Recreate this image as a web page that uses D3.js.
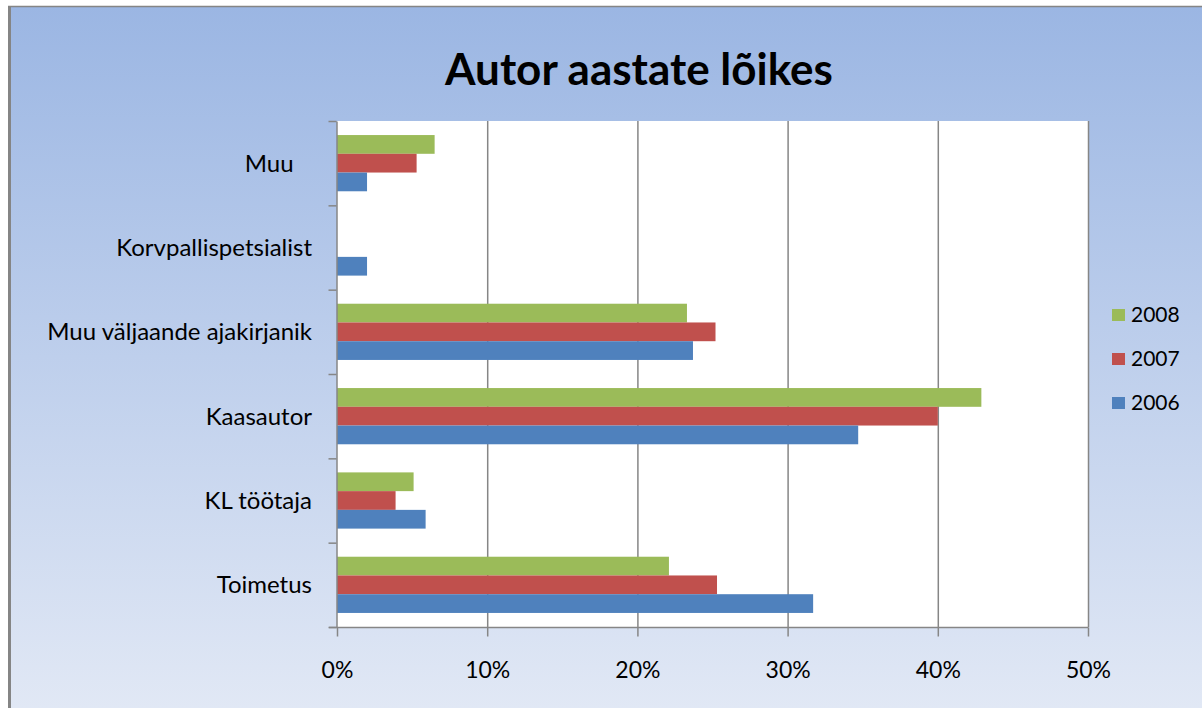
<!DOCTYPE html>
<html>
<head>
<meta charset="utf-8">
<script src="https://cdn.jsdelivr.net/npm/d3@7"></script>
<style>
  body { margin: 0; background: #ffffff; }
  text { font-family: Lato, "Open Sans", sans-serif; }
</style>
</head>
<body>
<div id="chart"></div>
<script>
// データ---------------------------------------------------------------------------------
const categories = ['Muu   ', 'Korvpallispetsialist', 'Muu väljaande ajakirjanik', 'Kaasautor', 'KL töötaja', 'Toimetus'];
const seriesNames = ['2008', '2007', '2006'];
const values2008 = [0.065, 0, 0.233, 0.429, 0.051, 0.221];
const values2007 = [0.053, 0, 0.252, 0.400, 0.039, 0.253];
const values2006 = [0.020, 0.020, 0.237, 0.347, 0.059, 0.317];
const xTicks = [0, 0.1, 0.2, 0.3, 0.4, 0.5];
const colors = ['#9bbb59', '#c0504d', '#4f81bd'];
const title = 'Autor aastate lõikes';

const dataset = categories.map((c, i) => ({
  cat: c,
  vals: [values2008[i], values2007[i], values2006[i]]
}));

// SVG領域---------------------------------------------------------------------------------
const width = 1202, height = 708;
const plot = { left: 337, right: 1088, top: 121, bottom: 627 };
const svg = d3.select('#chart').append('svg')
  .attr('width', width)
  .attr('height', height);

// 背景グラデーション---------------------------------------------------------------------
const grad = svg.append('defs').append('linearGradient')
  .attr('id', 'bg')
  .attr('x1', 0).attr('y1', 0).attr('x2', 0).attr('y2', 1);
grad.append('stop').attr('offset', '0%').attr('stop-color', '#9bb6e3');
grad.append('stop').attr('offset', '100%').attr('stop-color', '#e1e8f5');
svg.append('rect')
  .attr('x', 10).attr('y', 7)
  .attr('width', width - 10).attr('height', height - 7)
  .attr('fill', 'url(#bg)');
svg.append('line')
  .attr('x1', 9.5).attr('x2', 9.5).attr('y1', 6).attr('y2', height)
  .attr('stroke', '#858585').attr('stroke-width', 3);
svg.append('line')
  .attr('x1', 8).attr('x2', width).attr('y1', 6.5).attr('y2', 6.5)
  .attr('stroke', '#858585').attr('stroke-width', 1.5);

// 表名------------------------------------------------------------------------------------
svg.append('text')
  .attr('x', 639).attr('y', 85)
  .attr('text-anchor', 'middle')
  .attr('font-weight', 'bold')
  .attr('font-size', '44px')
  .attr('fill', '#000')
  .text(title);

// プロット領域----------------------------------------------------------------------------
svg.append('rect')
  .attr('x', plot.left).attr('y', plot.top)
  .attr('width', plot.right - plot.left).attr('height', plot.bottom - plot.top)
  .attr('fill', '#ffffff');

// スケール--------------------------------------------------------------------------------
const xScale = d3.scaleLinear().domain([0, 0.5]).range([plot.left, plot.right]);
const yScale = d3.scaleBand().domain(categories)
  .range([plot.top, plot.bottom])
  .paddingInner(1 / 3).paddingOuter(1 / 6);
const ySub = d3.scaleBand().domain(seriesNames).range([0, yScale.bandwidth()]);
const yEdge = d3.scaleLinear().domain([0, categories.length]).range([plot.top, plot.bottom]);

// グリッド線------------------------------------------------------------------------------
svg.append('g')
  .selectAll('line')
  .data(xTicks.slice(1))
  .enter()
  .append('line')
  .attr('x1', d => xScale(d) + 0.5).attr('x2', d => xScale(d) + 0.5)
  .attr('y1', plot.top).attr('y2', plot.bottom)
  .attr('stroke', '#868686')
  .attr('stroke-width', 1.5);

// 棒--------------------------------------------------------------------------------------
const groups = svg.append('g')
  .selectAll('g')
  .data(dataset)
  .enter()
  .append('g')
  .attr('transform', d => 'translate(0,' + yScale(d.cat) + ')');
groups.selectAll('rect')
  .data(d => d.vals.map((v, i) => ({ v: v, s: seriesNames[i], c: colors[i] })))
  .enter()
  .append('rect')
  .attr('x', xScale(0))
  .attr('y', d => ySub(d.s))
  .attr('width', d => xScale(d.v) - xScale(0))
  .attr('height', ySub.bandwidth())
  .attr('fill', d => d.c);

// 縦軸------------------------------------------------------------------------------------
const axisY = d3.axisLeft(yEdge)
  .tickValues(d3.range(categories.length + 1))
  .tickFormat('')
  .tickSize(8)
  .tickSizeOuter(0);
const gY = svg.append('g')
  .attr('transform', 'translate(' + (plot.left - 0.5) + ',0)')
  .call(axisY);
gY.select('.domain').attr('stroke', '#868686').attr('stroke-width', 1.5);
gY.selectAll('.tick line').attr('stroke', '#868686').attr('stroke-width', 1.5);

svg.append('g')
  .selectAll('text')
  .data(categories)
  .enter()
  .append('text')
  .attr('x', 312)
  .attr('y', d => yScale(d) + yScale.bandwidth() / 2)
  .attr('dy', '0.35em')
  .attr('text-anchor', 'end')
  .attr('font-size', '24px')
  .style('white-space', 'pre')
  .attr('fill', '#000')
  .text(d => d);

// 横軸------------------------------------------------------------------------------------
const axisX = d3.axisBottom(xScale)
  .tickValues(xTicks)
  .tickFormat(d3.format('.0%'))
  .tickSize(9)
  .tickPadding(25);
const gX = svg.append('g')
  .attr('transform', 'translate(0,' + (plot.bottom + 0.5) + ')')
  .call(axisX);
gX.select('.domain').remove();
gX.selectAll('.tick line').attr('stroke', '#868686').attr('stroke-width', 1.5);
gX.selectAll('.tick text')
  .attr('font-size', '23px')
  .attr('font-family', 'Lato, sans-serif')
  .attr('fill', '#000');
gX.append('line')
  .attr('x1', plot.left - 8).attr('x2', plot.right + 0.5)
  .attr('y1', 0).attr('y2', 0)
  .attr('stroke', '#868686').attr('stroke-width', 1.5);

// 凡例------------------------------------------------------------------------------------
const legend = svg.append('g')
  .selectAll('g')
  .data(seriesNames)
  .enter()
  .append('g')
  .attr('transform', (d, i) => 'translate(1112,' + (309 + i * 44) + ')');
legend.append('rect')
  .attr('width', 13).attr('height', 12)
  .attr('fill', (d, i) => colors[i]);
legend.append('text')
  .attr('x', 19).attr('y', 12.5)
  .attr('font-size', '21px')
  .attr('fill', '#000')
  .text(d => d);
</script>
</body>
</html>
